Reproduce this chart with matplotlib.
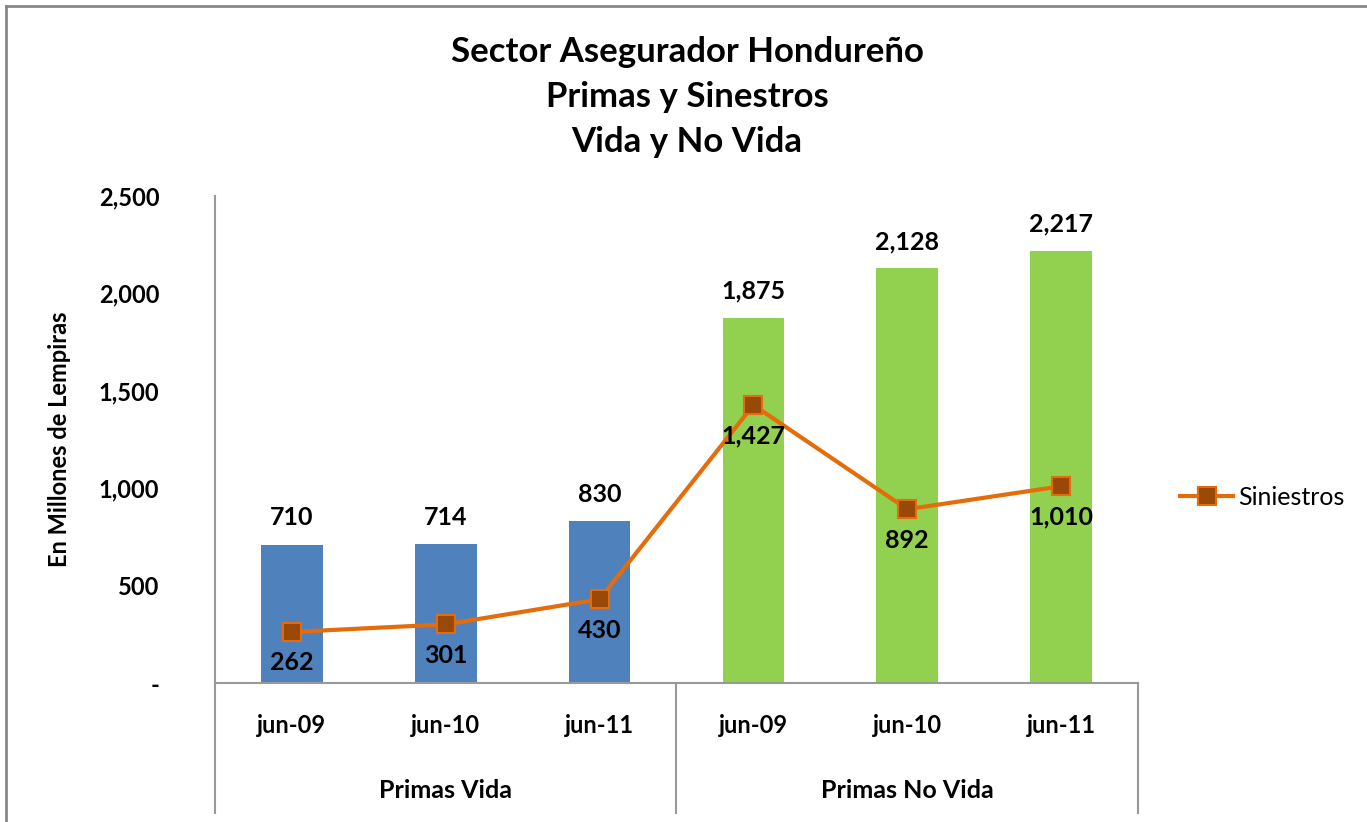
import matplotlib
matplotlib.use("Agg")
import matplotlib.pyplot as plt
from matplotlib.transforms import blended_transform_factory
from matplotlib.lines import Line2D

plt.rcParams['font.family'] = ['Lato', 'DejaVu Sans']

# data
groups = ["Primas Vida", "Primas No Vida"]
periods = ["jun-09", "jun-10", "jun-11", "jun-09", "jun-10", "jun-11"]
primas = [710, 714, 830, 1875, 2128, 2217]
siniestros = [262, 301, 430, 1427, 892, 1010]
bar_colors = ["#4F81BD"] * 3 + ["#92D050"] * 3
y_ticks = [0, 500, 1000, 1500, 2000, 2500]
y_labels = ["-", "500", "1,000", "1,500", "2,000", "2,500"]

fig = plt.figure(figsize=(13.67, 8.22), dpi=100)
ax = fig.add_axes([215/1367, 1-683/822, (1138-215)/1367, (683-196)/822])

x = list(range(len(primas)))
ax.bar(x, primas, width=0.4, color=bar_colors, zorder=2)
for xi, v in zip(x, primas):
    ax.annotate("{:,}".format(v), (xi, v), xytext=(0, 11), textcoords="offset points",
                ha="center", va="bottom", fontsize=18, fontweight="bold")

ax.plot(x, siniestros, color="#E46C0A", lw=3, marker="s", markersize=13,
        markerfacecolor="#984807", markeredgecolor="#E46C0A", markeredgewidth=1.5,
        zorder=3)
for xi, v in zip(x, siniestros):
    ax.annotate("{:,}".format(v), (xi, v), xytext=(0, -14), textcoords="offset points",
                ha="center", va="top", fontsize=18, fontweight="bold", zorder=4)

ax.set_xlim(-0.5, 5.5)
ax.set_ylim(0, 2500)
ax.set_yticks(y_ticks)
ax.set_yticklabels(y_labels, fontsize=17, fontweight="bold")
ax.tick_params(axis="y", length=0, pad=40)
ax.set_xticks(x)
ax.set_xticklabels(periods, fontsize=17, fontweight="bold")
ax.tick_params(axis="x", length=0, pad=22)
for s in ["top", "right"]:
    ax.spines[s].set_visible(False)
for s in ["left", "bottom"]:
    ax.spines[s].set_color("#999999")
    ax.spines[s].set_linewidth(1.5)

ax.set_ylabel("En Millones de Lempiras", fontsize=17, fontweight="bold")
ax.yaxis.set_label_coords(-144/923, 0.5)

# group separators and group labels under the axis
tr = blended_transform_factory(ax.transData, ax.transAxes)
for xs in [-0.5, 2.5, 5.5]:
    ax.add_line(Line2D([xs, xs], [0, -(813-683)/487], transform=tr, color="#999999",
                       lw=1.5, clip_on=False))
for i, g in enumerate(groups):
    ax.text(1 + 3*i, -(790-683)/487, g, transform=tr, ha="center", va="center",
            fontsize=18, fontweight="bold")

fig.text(687/1367, 1-97/822, "Sector Asegurador Hondureño\nPrimas y Sinestros\nVida y No Vida",
         ha="center", va="center", fontsize=25, fontweight="bold", linespacing=1.5)

ax.legend(["Siniestros"], loc="center left", bbox_to_anchor=(1.035, 1-(497-196)/487),
          frameon=False, fontsize=18, handlelength=2.1, handletextpad=0.2, borderaxespad=0)

# chart area border (left and top visible)
fig.add_artist(Line2D([6/1367, 6/1367], [0, 1-6/822], transform=fig.transFigure,
                      color="#888888", lw=2))
fig.add_artist(Line2D([6/1367, 1], [1-6/822, 1-6/822], transform=fig.transFigure,
                      color="#888888", lw=2))

fig.savefig("out.png", dpi=100)
